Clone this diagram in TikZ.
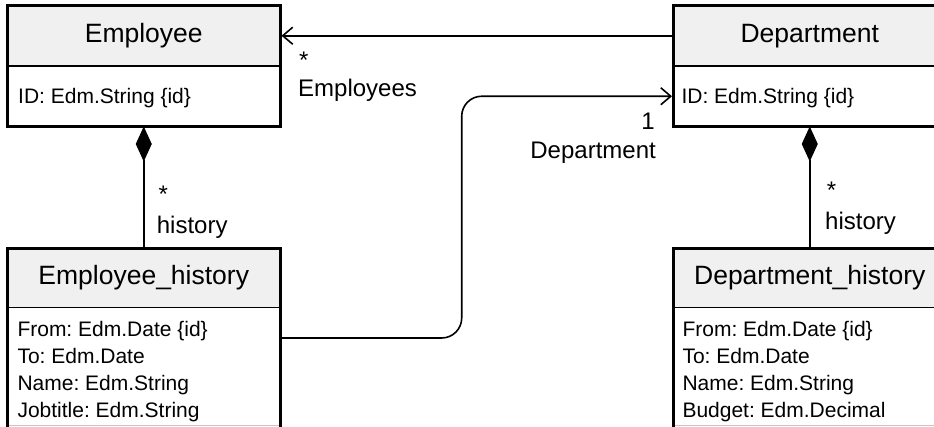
\documentclass[tikz,border=0pt]{standalone}
\usepackage{fontspec}
\setmainfont{Liberation Sans}
\usetikzlibrary{arrows.meta}
\definecolor{hdrgray}{HTML}{F0F0F0}
\frenchspacing
\begin{document}
\begin{tikzpicture}[x=1pt,y=-1pt,
  hdr/.style={draw, line width=1.6pt, fill=hdrgray, minimum width=272.5pt, minimum height=60.5pt, anchor=north west, inner sep=0pt, outer sep=0pt, font=\fontsize{26.5}{30}\selectfont, text height=19pt, text depth=5.5pt},
  bodybox/.style={draw, line width=1.6pt, fill=white, minimum width=272.5pt, anchor=north west, inner sep=0pt, outer sep=0pt},
  frame/.style={draw, line width=3pt},
  attr/.style={anchor=base west, inner sep=0pt, font=\fontsize{21}{26.67}\selectfont\frenchspacing},
  lbl/.style={inner sep=0pt, font=\fontsize{24}{30}\selectfont},
  conn/.style={line width=1.6pt},
  openhead/.style={-{Straight Barb[length=10pt,width=17pt,line width=1.6pt]}},
  bottomrule/.style={draw=gray!45, line width=1pt}
]
\useasboundingbox (0,0) rectangle (934,427);

% Employee
\node[hdr] (emp) at (7.5,5.5) {Employee};
\node[bodybox, minimum height=60.5pt] (empb) at (emp.south west) {};
\node[attr] (empa1) at (18,103.3) {ID: Edm.String \{id\}};
\draw[frame] (emp.north west) rectangle (empb.south east);

% Department
\node[hdr] (dep) at (673.5,5.5) {Department};
\node[bodybox, minimum height=60.5pt] (depb) at (dep.south west) {};
\node[attr] (depa1) at (681.3,103.3) {ID: Edm.String \{id\}};
\draw[frame] (dep.north west) rectangle (depb.south east);

% Employee_history
\node[hdr, minimum height=59.2pt] (eh) at (7.5,248.5) {Employee\_history};
\node[bodybox, minimum height=140pt] (ehb) at (eh.south west) {};
\node[attr] (eha1) at (17.3,337) {From: Edm.Date \{id\}};
\node[attr] (eha2) at (17.3,363.7) {To: Edm.Date};
\node[attr] (eha3) at (17.3,390.3) {Name: Edm.String};
\node[attr] (eha4) at (17.3,417) {Jobtitle: Edm.String};
\draw[bottomrule] (9,425) -- (278.5,425);
\draw[frame] (eh.north west) rectangle (ehb.south east);

% Department_history
\node[hdr, minimum height=59.2pt] (dh) at (673.5,248.5) {Department\_history};
\node[bodybox, minimum height=140pt] (dhb) at (dh.south west) {};
\node[attr] (dha1) at (682.3,337) {From: Edm.Date \{id\}};
\node[attr] (dha2) at (682.3,363.7) {To: Edm.Date};
\node[attr] (dha3) at (682.3,390.3) {Name: Edm.String};
\node[attr] (dha4) at (682.3,417) {Budget: Edm.Decimal};
\draw[bottomrule] (675,425) -- (944.5,425);
\draw[frame] (dh.north west) rectangle (dhb.south east);

% Department -> Employee
\draw[conn, openhead] (dep.west) -- ([xshift=1.5pt]emp.east);
\node[lbl, anchor=base west] (empstar) at (299,69) {*};
\node[lbl, anchor=base west] (emplbl) at (298,97) {Employees};

% Employee_history -> Department
\coordinate (ehout) at ([yshift=-30.3pt]ehb.north east);
\coordinate (bend) at (461.7,200);
\draw[conn, openhead, rounded corners=20pt] (ehout) -| (bend) |- ([xshift=-1.5pt]depb.west);
\node[lbl, anchor=base east] (deponelbl) at (655,130) {1};
\node[lbl, anchor=base east] (deplbl) at (656,158.3) {Department};

% compositions
\draw[conn, {Diamond[length=35pt,width=16pt,line width=1pt]}-] (empb.south) -- (eh.north);
\node[lbl, anchor=base west] (ehstar) at (158.3,203) {*};
\node[lbl, anchor=base west] (ehlbl) at (156.7,233.5) {history};

\draw[conn, {Diamond[length=35pt,width=16pt,line width=1pt]}-] (depb.south) -- (dh.north);
\node[lbl, anchor=base west] (dhstar) at (826.7,199) {*};
\node[lbl, anchor=base west] (dhlbl) at (825,229.5) {history};
\end{tikzpicture}
\end{document}
